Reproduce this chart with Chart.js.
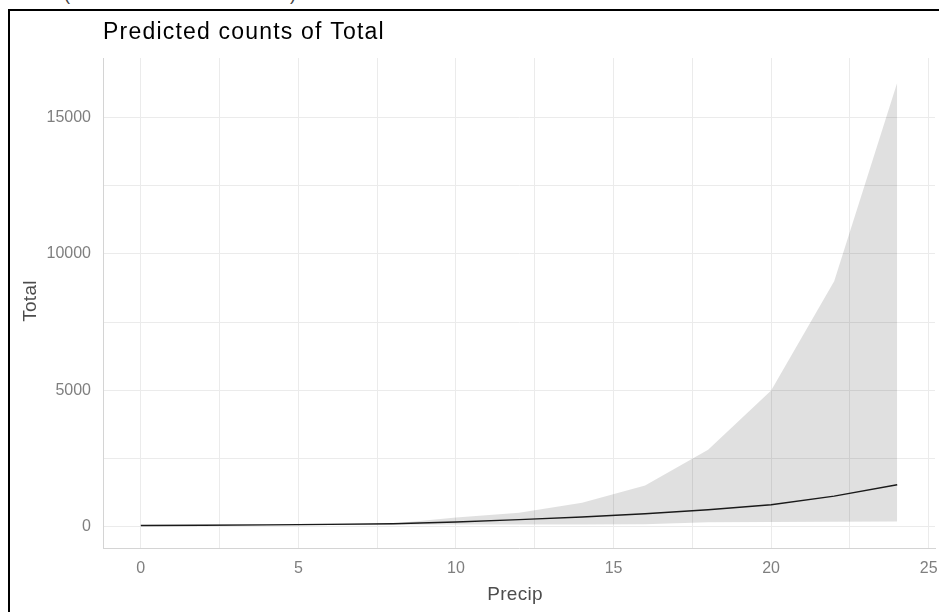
<!DOCTYPE html>
<html>
<head>
<meta charset="utf-8">
<title>Predicted counts of Total</title>
<script src="https://cdn.jsdelivr.net/npm/chart.js@4.4.1/dist/chart.umd.min.js"></script>
<style>
  html, body { margin: 0; padding: 0; width: 939px; height: 612px; overflow: hidden; background: #fff; }
  #wrap { position: relative; width: 939px; height: 612px; overflow: hidden; }
  #c { position: absolute; left: 0; top: 0; }
  #frame { position: absolute; left: 8px; top: 9px; width: 1000px; height: 700px;
           border: 2px solid #000; box-sizing: border-box; pointer-events: none; }
  .paren { position: absolute; top: -16px; font: 18px "Liberation Sans", Arial, sans-serif; color: #444; }
</style>
</head>
<body>
<div id="wrap">
  <span class="paren" style="left:64px">(</span>
  <span class="paren" style="left:290px">)</span>
  <canvas id="c" width="939" height="612"></canvas>
  <div id="frame"></div>
</div>
<script>
// Precipitation values at which the model was evaluated
const precip = [0, 2, 4, 6, 8, 10, 12, 14, 16, 18, 20, 22, 24];
// Predicted counts of Total
const predicted = [35, 45, 58, 76, 100, 160, 250, 345, 465, 610, 796, 1110, 1530];
// Confidence band
const ciLow  = [25, 32, 42, 55, 65, 70, 72, 74, 76, 150, 160, 170, 183];
const ciHigh = [45, 60, 78, 105, 110, 330, 500, 870, 1500, 2810, 4990, 9000, 16280];
// Labelled ticks and grid positions (major + minor)
const xTickLabels = [0, 5, 10, 15, 20, 25];
const xGrid = [0, 2.5, 5, 7.5, 10, 12.5, 15, 17.5, 20, 22.5, 25];
const yTickLabels = [0, 5000, 10000, 15000];
const yGrid = [0, 2500, 5000, 7500, 10000, 12500, 15000];

const FONT = '"Liberation Sans", Arial, sans-serif';

const toPoints = ys => precip.map((x, i) => ({ x: x, y: ys[i] }));

// Title and axis titles, placed relative to the plot panel
const panelText = {
  id: 'panelText',
  afterDraw(chart) {
    const { ctx, chartArea } = chart;
    ctx.save();
    ctx.fillStyle = '#000';
    ctx.font = '23px ' + FONT;
    ctx.letterSpacing = '1.2px';
    ctx.textAlign = 'left';
    ctx.textBaseline = 'alphabetic';
    ctx.fillText('Predicted counts of Total', chartArea.left, 39);

    ctx.fillStyle = '#4d4d4d';
    ctx.font = '19px ' + FONT;
    ctx.letterSpacing = '0.3px';
    ctx.textAlign = 'center';
    ctx.textBaseline = 'alphabetic';
    ctx.fillText('Precip', (chartArea.left + chartArea.right) / 2 - 4, 600);

    ctx.translate(36, (chartArea.top + chartArea.bottom) / 2 - 2);
    ctx.rotate(-Math.PI / 2);
    ctx.fillText('Total', 0, 0);
    ctx.restore();
  }
};

new Chart(document.getElementById('c'), {
  type: 'line',
  data: {
    datasets: [
      {
        label: 'Predicted',
        data: toPoints(predicted),
        borderColor: '#1a1a1a',
        borderWidth: 1.4,
        pointRadius: 0,
        fill: false,
        tension: 0
      },
      {
        label: 'Upper',
        data: toPoints(ciHigh),
        borderWidth: 0,
        borderColor: 'rgba(0,0,0,0)',
        backgroundColor: 'rgba(0,0,0,0.12)',
        pointRadius: 0,
        fill: '+1',
        tension: 0
      },
      {
        label: 'Lower',
        data: toPoints(ciLow),
        borderWidth: 0,
        borderColor: 'rgba(0,0,0,0)',
        pointRadius: 0,
        fill: false,
        tension: 0
      }
    ]
  },
  options: {
    responsive: false,
    animation: false,
    devicePixelRatio: 1,
    layout: { padding: { left: 0, right: 4, top: 58, bottom: 0 } },
    plugins: {
      legend: { display: false },
      tooltip: { enabled: false },
      title: { display: false }
    },
    scales: {
      x: {
        type: 'linear',
        min: -1.2,
        max: 25.2,
        border: { display: true, color: '#d4d4d4', width: 1 },
        grid: { color: '#ebebeb', lineWidth: 1, drawTicks: false },
        afterBuildTicks(scale) {
          scale.ticks = xGrid.map(v => ({ value: v }));
        },
        ticks: {
          autoSkip: false,
          maxRotation: 0,
          padding: 11,
          color: '#7f7f7f',
          font: { family: FONT, size: 16 },
          callback: v => (xTickLabels.includes(v) ? String(v) : '')
        },
        afterFit(scale) {
          scale.height = 64;
          scale.paddingLeft = 0;
          scale.paddingRight = 0;
        }
      },
      y: {
        type: 'linear',
        min: -792,
        max: 17190,
        border: { display: true, color: '#d4d4d4', width: 1 },
        grid: { color: '#ebebeb', lineWidth: 1, drawTicks: false },
        afterBuildTicks(scale) {
          scale.ticks = yGrid.map(v => ({ value: v }));
        },
        ticks: {
          autoSkip: false,
          padding: 12,
          color: '#7f7f7f',
          font: { family: FONT, size: 16 },
          callback: v => (yTickLabels.includes(v) ? String(v) : '')
        },
        afterFit(scale) {
          scale.width = 103;
          scale.paddingTop = 0;
          scale.paddingBottom = 0;
        }
      }
    }
  },
  plugins: [panelText]
});
</script>
</body>
</html>
